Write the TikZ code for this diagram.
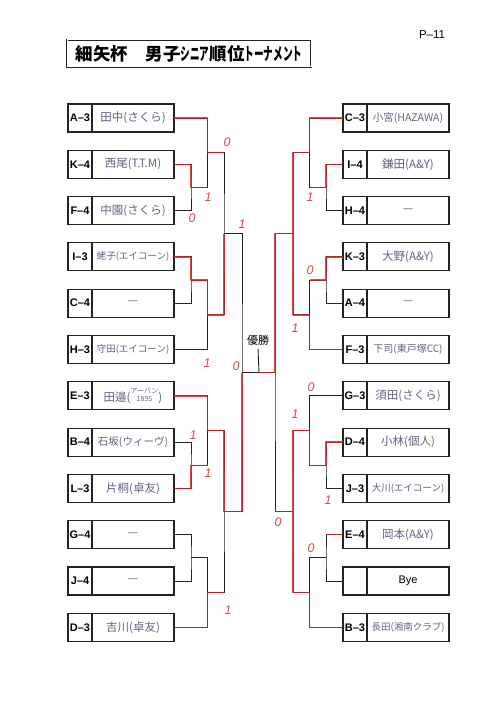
\documentclass[tikz,border=0pt]{standalone}
\usepackage{fontspec}
\setmainfont{Liberation Sans}
\newfontfamily\jpfont{Noto Sans CJK JP}
\usetikzlibrary{positioning}
\definecolor{ink}{RGB}{35,35,35}
\definecolor{pencil}{RGB}{95,100,128}
\definecolor{redpen}{RGB}{205,40,40}

\begin{document}
\begin{tikzpicture}[x=1pt, y=-1pt,
	codebox/.style={draw=ink, line width=1.1pt, outer sep=0pt, inner sep=0pt,
		minimum width=24pt, minimum height=28pt, font=\fontsize{11}{11}\selectfont\bfseries},
	namebox/.style={draw=ink, line width=1.1pt, outer sep=0pt, inner sep=0pt,
		minimum width=82pt, minimum height=28pt, text=pencil,
		font=\jpfont\fontsize{11.5}{11.5}\selectfont},
	bracket/.style={ink, line width=0.9pt},
	winner/.style={redpen, line width=1.5pt, line join=round, opacity=0.85, shift={(0.8,0.8)}},
	score/.style={redpen!85, font=\fontsize{12.5}{12.5}\selectfont\itshape}]
	\useasboundingbox (0,0) rectangle (500,708);

	\node[draw=ink, line width=0.9pt, double=white, double distance=1pt,
		minimum width=244pt, minimum height=27pt, inner sep=0pt,
		font=\jpfont\bfseries\fontsize{17.5}{17.5}\selectfont] (title) at (189,53.5)
		{細矢杯　男子\scalebox{0.55}[1]{シニア}順位\scalebox{0.55}[1]{トーナメント}};
	\node[font=\fontsize{11.5}{11.5}\selectfont] (page) at (432,35) {P–11};

	% left half
	\foreach \i/\code/\who in {
		1/A–3/{田中(さくら)}, 2/K–4/{西尾(T.T.M)}, 3/F–4/{中園(さくら)},
		4/I–3/{\fontsize{9.5}{9.5}\selectfont 蛯子(エイコーン)}, 5/C–4/{—},
		6/H–3/{\fontsize{9.5}{9.5}\selectfont 守田(エイコーン)},
		7/E–3/{田邉({\fontsize{7}{7.5}\selectfont\shortstack{アーバン\\1895}})},
		8/B–4/{\fontsize{10.5}{10.5}\selectfont 石坂(ウィーヴ)}, 9/L–3/{片桐(卓友)},
		10/G–4/{—}, 11/J–4/{—}, 12/D–3/{吉川(卓友)}}{
		\node[codebox] (lcode\i) at (80,{118+46.3*(\i-1)}) {\code};
		\node[namebox, right=0pt of lcode\i] (lname\i) {\who};
	}
	% right half
	\foreach \i/\code/\who in {
		1/C–3/{\fontsize{10.5}{10.5}\selectfont 小宮(HAZAWA)}, 2/I–4/{鎌田(A\&Y)}, 3/H–4/{—},
		4/K–3/{大野(A\&Y)}, 5/A–4/{—}, 6/F–3/{\fontsize{10}{10}\selectfont 下司(東戸塚CC)},
		7/G–3/{須田(さくら)}, 8/D–4/{小林(個人)},
		9/J–3/{\fontsize{9.5}{9.5}\selectfont 大川(エイコーン)}, 10/E–4/{岡本(A\&Y)},
		11/{}/{\normalfont\color{black}\fontsize{11}{11}\selectfont Bye},
		12/B–3/{\fontsize{9.5}{9.5}\selectfont 長田(湘南クラブ)}}{
		\node[codebox] (rcode\i) at (355,{118+46.3*(\i-1)}) {\code};
		\node[namebox, right=0pt of rcode\i] (rname\i) {\who};
	}

	\coordinate (a1) at (191,187.45);   \coordinate (b1) at (207.5,152.72);
	\coordinate (a2) at (191,280.05);   \coordinate (b2) at (207.5,314.78);
	\coordinate (a3) at (191,465.25);   \coordinate (b3) at (207.5,430.53);
	\coordinate (a4) at (191,557.85);   \coordinate (b4) at (207.5,592.58);
	\coordinate (c1) at (224,233.75);   \coordinate (c2) at (224,511.55);
	\coordinate (d) at (242,372.65);
	\coordinate (ra1) at (326,187.45);  \coordinate (rb1) at (309.5,152.72);
	\coordinate (ra2) at (326,280.05);  \coordinate (rb2) at (309.5,314.78);
	\coordinate (ra3) at (326,465.25);  \coordinate (rb3) at (309.5,430.53);
	\coordinate (ra4) at (326,557.85);  \coordinate (rb4) at (309.5,592.58);
	\coordinate (rc1) at (293,233.75);  \coordinate (rc2) at (293,511.55);
	\coordinate (rd) at (275,372.65);
	\coordinate (top) at (259,372.65);

	\draw[bracket] (lname2.east) -| (a1) |- (lname3.east);
	\draw[bracket] (lname1.east) -| (b1) |- (a1);
	\draw[bracket] (lname4.east) -| (a2) |- (lname5.east);
	\draw[bracket] (a2) -| (b2) |- (lname6.east);
	\draw[bracket] (lname8.east) -| (a3) |- (lname9.east);
	\draw[bracket] (lname7.east) -| (b3) |- (a3);
	\draw[bracket] (lname10.east) -| (a4) |- (lname11.east);
	\draw[bracket] (a4) -| (b4) |- (lname12.east);
	\draw[bracket] (b1) -| (c1) |- (b2);
	\draw[bracket] (b3) -| (c2) |- (b4);
	\draw[bracket] (c1) -| (d) |- (c2);

	\draw[bracket] (rcode2.west) -| (ra1) |- (rcode3.west);
	\draw[bracket] (rcode1.west) -| (rb1) |- (ra1);
	\draw[bracket] (rcode4.west) -| (ra2) |- (rcode5.west);
	\draw[bracket] (ra2) -| (rb2) |- (rcode6.west);
	\draw[bracket] (rcode8.west) -| (ra3) |- (rcode9.west);
	\draw[bracket] (rcode7.west) -| (rb3) |- (ra3);
	\draw[bracket] (rcode10.west) -| (ra4) |- (rcode11.west);
	\draw[bracket] (ra4) -| (rb4) |- (rcode12.west);
	\draw[bracket] (rb1) -| (rc1) |- (rb2);
	\draw[bracket] (rb3) -| (rc2) |- (rb4);
	\draw[bracket] (rc1) -| (rd) |- (rc2);

	\node[font=\jpfont\fontsize{11}{11}\selectfont] (win) at (258,340) {優勝};
	\draw[bracket] (d) -- (rd);
	\draw[bracket] (top) -- (win.south);

	% red pen
	\draw[winner] (lname1.east) -| (b1) -- (b1 -| c1);
	\draw[winner] (lname2.east) -| (a1) -- (a1 -| b1);
	\draw[winner] (lname4.east) -| (a2) -| (b2) -| (c1);
	\draw[winner] (lname7.east) -| (b3) -| (c2) -| (d);
	\draw[winner] (lname9.east) -| (a3) -- (a3 -| b3);
	\draw[winner] (lname12.east) -| (b4) -- (b4 -| c2);
	\draw[winner] (rcode1.west) -| (rb1) -| (rc1) -| (rd) -- (top);
	\draw[winner] (rcode2.west) -| (ra1) -- (ra1 -| rb1);
	\draw[winner] (rcode4.west) -| (ra2) -- (ra2 -| rb2);
	\draw[winner] (rcode6.west) -| (rb2) -| (rc1);
	\draw[winner] (rcode8.west) -| (ra3) -| (rb3) -| (rc2) -- (rd |- rc2);
	\draw[winner] (rcode12.west) -| (rb4) -| (rc2);
	\draw[winner] (rcode10.west) -- (rcode10.west -| ra4);

	\foreach \n/\x/\y/\s in {1/227/142/0, 2/208/197/1, 3/192/218/0, 4/242/224/1,
		5/207/363/1, 6/236/366/0, 7/193/435/1, 8/208/473/1, 9/228/610/1,
		10/310/197/1, 11/310/270/0, 12/295/328/1, 13/311/387/0, 14/295/414/1,
		15/328/500/1, 16/311/548/0, 17/278/522/0}
		\node[score] (s\n) at (\x,\y) {\s};
\end{tikzpicture}
\end{document}
